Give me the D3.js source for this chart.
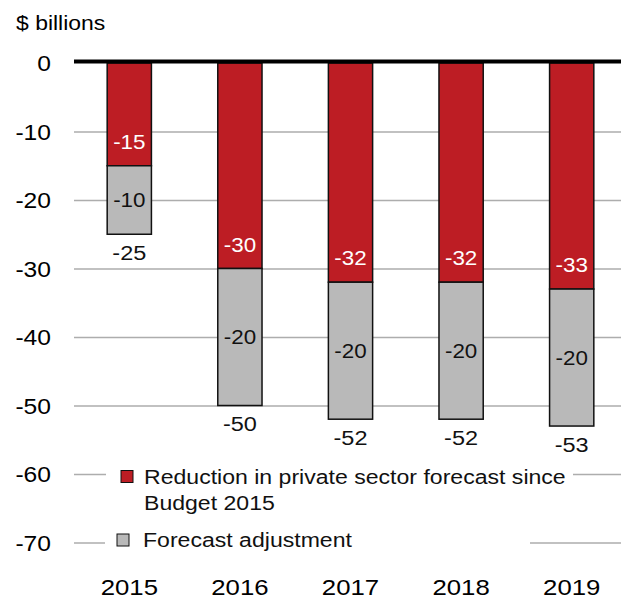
<!DOCTYPE html>
<html>
<head>
<meta charset="utf-8">
<script src="https://cdn.jsdelivr.net/npm/d3@7/dist/d3.min.js"></script>
<style>
  html, body { margin: 0; padding: 0; background: #fff; }
  svg { display: block; font-family: "Liberation Sans", Arial, sans-serif; }
</style>
</head>
<body>
<svg id="chart" width="621" height="599"></svg>
<script>
// Budget forecast changes, $ billions
const years = ["2015", "2016", "2017", "2018", "2019"];
const reduction = [-15, -30, -32, -32, -33];   // private sector forecast reduction since Budget 2015
const adjustment = [-10, -20, -20, -20, -20];  // forecast adjustment
const yTicks = [0, -10, -20, -30, -40, -50, -60, -70];
const seriesNames = ["Reduction in private sector forecast since Budget 2015", "Forecast adjustment"];

const RED = "#BD1D24";
const GREY = "#B9B9B9";
const SX = 1.12; // horizontal glyph stretch

const svg = d3.select("#chart");

const rows = years.map((y, i) => ({ year: y, reduction: reduction[i], adjustment: adjustment[i] }));
const stacked = d3.stack()
  .keys(["reduction", "adjustment"])
  .offset(d3.stackOffsetDiverging)(rows);

const x = d3.scaleBand().domain(years).range([74, 627]).paddingInner(0.6).paddingOuter(0.3);
const y = d3.scaleLinear().domain([-70, 0]).range([542.5, 63]);

// plain hyphen-minus, as printed on the chart
const fmt = v => String(v);

// helper for stretched text placed at (px, py)
function label(g, px, py, txt, size, anchor, fill) {
  return g.append("text")
    .attr("transform", `translate(${px},${py}) scale(${SX},1)`)
    .attr("text-anchor", anchor)
    .attr("font-size", size)
    .attr("fill", fill || "#000")
    .text(txt);
}

// gridlines
const grid = svg.append("g")
  .attr("transform", "translate(74,0)")
  .call(d3.axisLeft(y).tickValues(yTicks.filter(v => v !== 0)).tickSize(-547).tickFormat(""));
grid.select(".domain").remove();
grid.selectAll("line").attr("stroke", "#ADADAD").attr("stroke-width", 1.5);

// tick labels
yTicks.forEach(v => {
  label(svg, 51, y(v) + 8, fmt(v), 22, "end");
});

// title
label(svg, 16, 30, "$ billions", 20.5, "start");

// bars (segment edges: upper = max, lower = min)
const segTop = d => Math.max(d[0], d[1]);
const segBot = d => Math.min(d[0], d[1]);
const colors = { reduction: RED, adjustment: GREY };
stacked.forEach(layer => {
  svg.append("g").selectAll("rect")
    .data(layer)
    .join("rect")
    .attr("x", d => x(d.data.year))
    .attr("width", x.bandwidth())
    .attr("y", d => y(segTop(d)))
    .attr("height", d => y(segBot(d)) - y(segTop(d)))
    .attr("fill", colors[layer.key])
    .attr("stroke", "#111")
    .attr("stroke-width", 1.5);
});

// zero line
svg.append("line")
  .attr("x1", 74).attr("x2", 621)
  .attr("y1", y(0) - 1.5).attr("y2", y(0) - 1.5)
  .attr("stroke", "#000").attr("stroke-width", 4);

// value labels
const vals = svg.append("g");
stacked[0].forEach(d => {
  label(vals, x(d.data.year) + x.bandwidth() / 2, y(segBot(d)) - 24 + 7, fmt(d.data.reduction), 20, "middle", "#fff");
});
stacked[1].forEach(d => {
  const mid = (y(segTop(d)) + y(segBot(d))) / 2;
  label(vals, x(d.data.year) + x.bandwidth() / 2, mid + 7, fmt(d.data.adjustment), 20, "middle", "#111");
});
rows.forEach(d => {
  const total = d.reduction + d.adjustment;
  label(vals, x(d.year) + x.bandwidth() / 2, y(total) + 18 + 7.5, fmt(total), 21, "middle", "#111");
});

// year labels
years.forEach(yr => {
  label(svg, x(yr) + x.bandwidth() / 2, 595, yr, 23, "middle");
});

// legend
const lg = svg.append("g");
lg.append("rect").attr("x", 106).attr("y", 462).attr("width", 467).attr("height", 56).attr("fill", "#fff");
lg.append("rect").attr("x", 105).attr("y", 528).attr("width", 425).attr("height", 26).attr("fill", "#fff");

lg.append("rect").attr("x", 121).attr("y", 470.5).attr("width", 12).attr("height", 12)
  .attr("fill", RED).attr("stroke", "#111").attr("stroke-width", 1);
label(lg, 144, 484, "Reduction in private sector forecast since", 20.6, "start", "#111");
label(lg, 144, 510, "Budget 2015", 20.6, "start", "#111");

lg.append("rect").attr("x", 117).attr("y", 534).attr("width", 12).attr("height", 12)
  .attr("fill", GREY).attr("stroke", "#111").attr("stroke-width", 1);
label(lg, 143, 547, seriesNames[1], 20.6, "start", "#111");
</script>
</body>
</html>
